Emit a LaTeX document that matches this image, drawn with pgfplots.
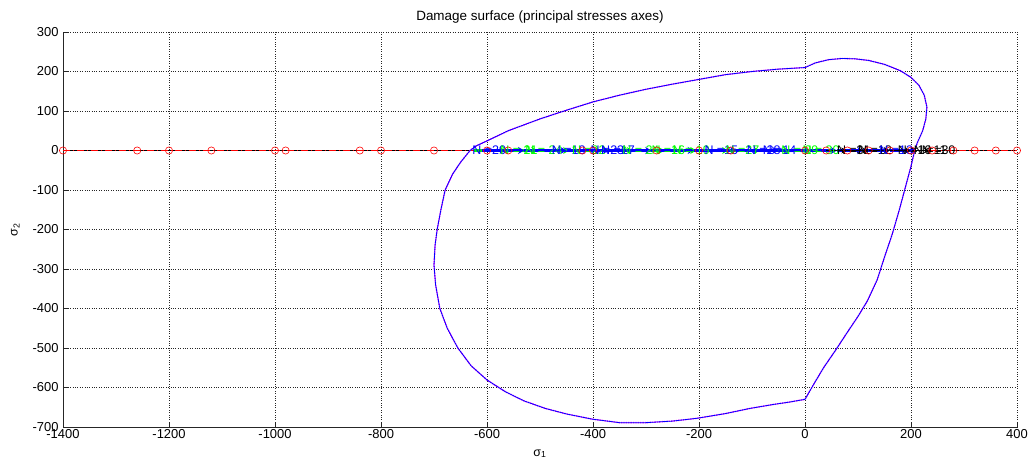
\documentclass[border=0pt]{standalone}
\usepackage{fontspec}
\setmainfont{Liberation Sans}
\usepackage{pgfplots}
\pgfplotsset{compat=1.18}
\usetikzlibrary{arrows.meta}

\definecolor{mgreen}{rgb}{0,1,0}
\definecolor{mblue}{rgb}{0,0,1}
\definecolor{mred}{rgb}{1,0,0}
\definecolor{mmag}{rgb}{1,0,1}

% damage surface in the principal stress plane (closed loop)
\pgfplotstableread{
x y
0 210
20 222
45 230
70 233
95 232
120 228
150 218
180 202
200 185
215 165
225 140
230 110
228 80
222 50
212 20
207 0
200 -40
190 -90
178 -150
165 -210
150 -270
136 -328
118 -380
100 -420
80 -460
58 -505
35 -550
15 -595
0 -630
-30 -637
-60 -643
-104 -653
-150 -666
-204 -678
-250 -685
-300 -689
-350 -689
-402 -680
-450 -667
-490 -653
-530 -634
-565 -611
-600 -581
-630 -545
-655 -500
-675 -450
-689 -400
-697 -340
-700 -290
-698 -240
-694 -200
-687 -150
-679 -100
-665 -60
-650 -30
-632 0
-620 12
-610 18
-560 50
-500 80
-450 102
-400 123
-350 140
-300 155
-250 168
-200 180
-150 192
-100 200
-50 206
0 210
}\surface

% loading path points on the sigma_1 axis
\pgfplotstableread{
x y
-1400 0
-1260 0
-1200 0
-1120 0
-1000 0
-980 0
-840 0
-800 0
-700 0
-600 0
-560 0
-420 0
-400 0
-280 0
-200 0
-140 0
0 0
40 0
80 0
120 0
160 0
200 0
240 0
280 0
320 0
360 0
400 0
}\pathpts

\pgfplotstableread{
x y u
-625 0 60
-565 0 60
-505 0 60
-445 0 60
-385 0 60
-325 0 60
-265 0 60
-205 0 60
-145 0 60
-85 0 55
}\greenarrows

\pgfplotstableread{
x y u
-610 0 80
-530 0 80
-450 0 80
-370 0 80
-290 0 80
-210 0 80
-130 0 80
-50 0 60
10 0 50
60 0 50
110 0 50
160 0 50
}\bluearrows

\pgfplotstableread{
x y u
40 0 40
80 0 40
120 0 40
160 0 40
200 0 35
}\blackarrows

\begin{document}
\begin{tikzpicture}
\path[use as bounding box] (-63bp,-35bp) rectangle (967bp,427bp);
\begin{axis}[
  at={(0,0)}, anchor=south west,
  scale only axis, width=954bp, height=395bp,
  xmin=-1400, xmax=400, ymin=-700, ymax=300,
  xtick distance=200, ytick distance=100,
  axis x line*=bottom, axis y line*=left,
  axis line style={-, black!85, line width=0.7pt},
  tick align=inside, major tick length=5bp,
  tick style={black!85, line width=0.7pt},
  grid=major, grid style={dotted, black!85, line width=0.6pt},
  /pgf/number format/assume math mode=true,
  /pgf/number format/1000 sep={},
  scaled ticks=false,
  tick label style={font=\fontsize{13}{15}\selectfont},
  yticklabel style={xshift=-1bp},
  xticklabel style={yshift=1bp},
  title={Damage surface (principal stresses axes)},
  title style={font=\fontsize{13.5}{15}\selectfont, yshift=-1bp},
  xlabel={σ\textsubscript{1}},
  ylabel={σ\textsubscript{2}},
  xlabel style={yshift=-4bp},
  ylabel style={yshift=6bp},
  label style={font=\fontsize{12.5}{14}\selectfont},
  clip=false,
]
% sigma_1 axis and loading path
\addplot[black, line width=0.6pt, no marks] table[x=x, y=y] {\pathpts};
\addplot[mred, line width=0.6pt, dash pattern=on 7bp off 3bp on 1bp off 3bp, mark=o, mark size=3.6bp,
  mark options={solid, mred, line width=0.6pt}] table[x=x, y=y] {\pathpts};
% damage surface
\addplot[mmag, line width=1.4pt, densely dotted, no marks] table[x=x, y=y] {\surface};
\addplot[mblue, line width=0.8pt, no marks] table[x=x, y=y] {\surface};
% load increments
\addplot[mgreen, line width=3.8pt, no marks, -{Stealth[length=6bp,width=7bp]},
  quiver={u=\thisrow{u}, v=0}] table[x=x, y=y] {\greenarrows};
\addplot[mblue, line width=2.2pt, no marks, -{Stealth[length=6bp,width=7bp]},
  quiver={u=\thisrow{u}, v=0}] table[x=x, y=y] {\bluearrows};
\addplot[black, line width=1.6pt, no marks, -{Stealth[length=6bp,width=6bp]},
  quiver={u=\thisrow{u}, v=0}] table[x=x, y=y] {\blackarrows};
% cycle counts
\begin{scope}[every node/.style={anchor=west, inner sep=0pt, font=\fontsize{12.5}{14}\selectfont}]
\node[text=mblue]  at (axis cs:-628,0) {N =20};
\node[text=mgreen] at (axis cs:-575,0) {N = 21};
\node[text=mgreen] at (axis cs:-528,0) {N = 24};
\node[text=mblue]  at (axis cs:-478,0) {N =18};
\node[text=mgreen] at (axis cs:-440,0) {N =22};
\node[text=mblue]  at (axis cs:-405,0) {N =23};
\node[text=mblue]  at (axis cs:-385,0) {N =17};
\node[text=mgreen] at (axis cs:-345,0) {N = 24};
\node[text=mgreen] at (axis cs:-290,0) {N =16};
\node[text=mgreen] at (axis cs:-250,0) {N = 19};
\node[text=mblue]  at (axis cs:-190,0) {N =15};
\node[text=mgreen] at (axis cs:-150,0) {N =27};
\node[text=mblue]  at (axis cs:-110,0) {N =28};
\node[text=mblue]  at (axis cs:-80,0) {N =14};
\node[text=mgreen] at (axis cs:-45,0) {N = 29};
\node[text=mgreen] at (axis cs:-5,0) {N = 30};
\node[text=black]  at (axis cs:60,0) {N =31};
\node[text=black]  at (axis cs:100,0) {N =12};
\node[text=mblue]  at (axis cs:140,0) {N =13};
\node[text=black]  at (axis cs:175,0) {N =10};
\node[text=black]  at (axis cs:205,0) {N =11};
\node[text=black]  at (axis cs:220,0) {N =30};
\end{scope}
\end{axis}
\end{tikzpicture}
\end{document}
